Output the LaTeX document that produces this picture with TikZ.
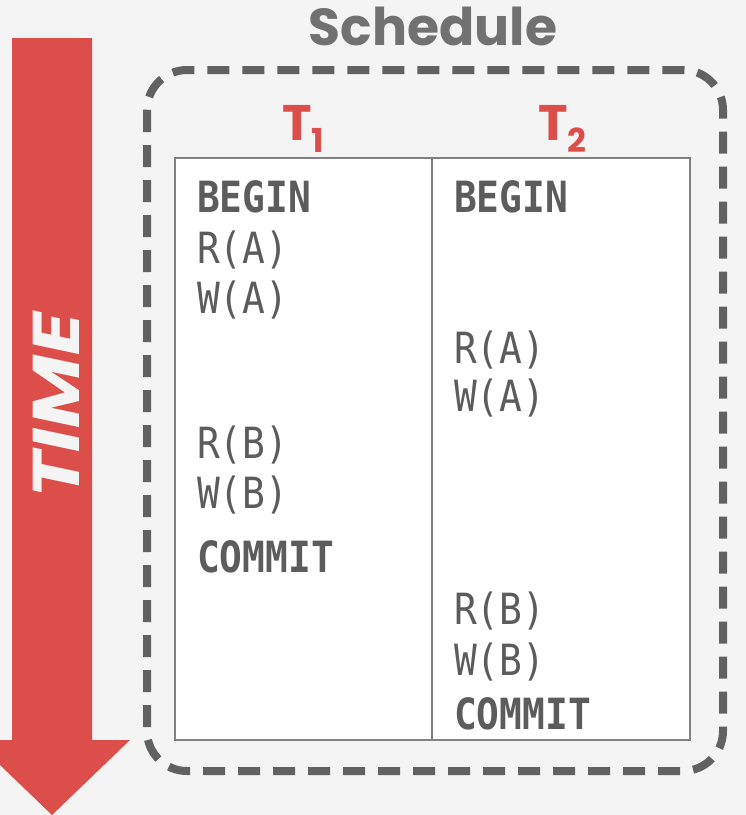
\documentclass[tikz,border=0pt]{standalone}
\usepackage{fontspec}
\setmainfont{Poppins}
\setmonofont[FakeStretch=0.88]{DejaVu Sans Mono}
\usetikzlibrary{positioning}
\definecolor{timered}{HTML}{DB4E4A}
\definecolor{inkgray}{HTML}{5C5C5C}
\definecolor{framegray}{HTML}{616161}
\definecolor{paper}{HTML}{F4F4F4}
\newcommand{\txsub}[1]{\raisebox{-12pt}{\fontsize{33}{33}\selectfont #1}}
\tikzset{
  op/.style = {anchor=west, inner sep=0pt, font=\fontsize{43}{43}\selectfont\ttfamily,
    text=inkgray},
  kw/.style = {op, font=\fontsize{43}{43}\selectfont\ttfamily\bfseries},
  txn/.style = {inner sep=0pt, text=timered, font=\fontsize{50}{50}\selectfont\bfseries}}

\begin{document}
\begin{tikzpicture}[x=1pt,y=-1pt]
 \fill[paper] (0,0) rectangle (746,815);
 \useasboundingbox (0,0) rectangle (746,815);

 % time arrow
 \fill[timered] (12,38) -- (92,38) -- (92,740) -- (130,740) -- (52,815)
   -- (-26,740) -- (12,740) -- cycle;
 \node[rotate=90, text=paper, inner sep=0pt,
   font=\fontsize{66}{66}\selectfont\bfseries\itshape] (time) at (56,406)
   {\scalebox{1.2}[1]{TIME}};

 % schedule frame
 \draw[framegray, line width=8pt, dash pattern=on 22pt off 13pt, rounded corners=40pt]
   (147,70) rectangle (723,771);
 \node[text=framegray!90, inner sep=0pt, font=\fontsize{52}{52}\selectfont\bfseries]
   (sched) at (433,26) {Schedule};

 % the table
 \draw[fill=white, draw=gray, line width=1.5pt] (175,158) rectangle (690,740);
 \draw[gray, line width=1.5pt] (432,158) -- (432,740);
 \node[txn, anchor=base west] (t1) at (282,140) {T\txsub{1}};
 \node[txn, anchor=base west] (t2) at (538,140) {T\txsub{2}};

 % T1
 \node[kw] (b1) at (197,197) {BEGIN};
 \node[op] (ra1) at (197,250) {R(A)};
 \node[op] (wa1) at (197,300) {W(A)};
 \node[op] (rb1) at (197,445) {R(B)};
 \node[op] (wb1) at (197,495) {W(B)};
 \node[kw] (c1) at (197,557) {COMMIT};

 % T2
 \node[kw] (b2) at (454,197) {BEGIN};
 \node[op] (ra2) at (454,350) {R(A)};
 \node[op] (wa2) at (454,398) {W(A)};
 \node[op] (rb2) at (454,611) {R(B)};
 \node[op] (wb2) at (454,662) {W(B)};
 \node[kw] (c2) at (454,714) {COMMIT};
\end{tikzpicture}
\end{document}
